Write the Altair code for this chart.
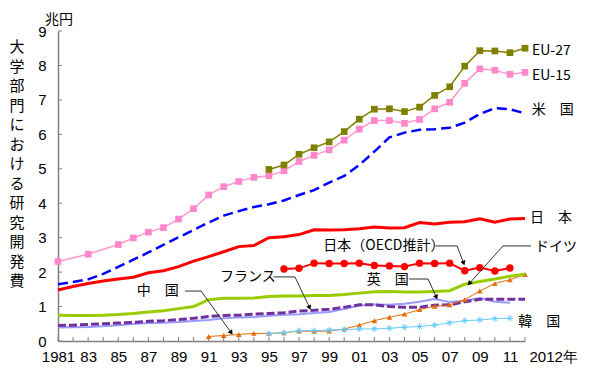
import math
import altair as alt
import pandas as pd

# ---------------- data (兆円) ----------------
years = list(range(1981, 2013))
x_tick_labels = ['1981', '', '83', '', '85', '', '87', '', '89', '', '91', '', '93', '', '95', '',
                 '97', '', '99', '', '01', '', '03', '', '05', '', '07', '', '09', '', '11', '2012年']
y_ticks = [0, 1, 2, 3, 4, 5, 6, 7, 8, 9]

eu15_years = [1981, 1983] + list(range(1985, 2013))
eu15_vals = [2.31, 2.52, 2.80, 2.99, 3.16, 3.29, 3.54, 3.84, 4.24, 4.48, 4.63, 4.75, 4.80, 4.94, 5.21,
             5.39, 5.55, 5.83, 6.15, 6.40, 6.40, 6.32, 6.43, 6.74, 6.93, 7.48, 7.90, 7.86, 7.74, 7.80]
eu27_years = list(range(1995, 2013))
eu27_vals = [4.98, 5.11, 5.42, 5.61, 5.78, 6.08, 6.44, 6.73, 6.74, 6.66, 6.79, 7.13, 7.38, 7.98,
             8.43, 8.42, 8.37, 8.50]
us_vals = [1.65, 1.71, 1.79, 1.95, 2.15, 2.36, 2.57, 2.79, 3.01, 3.22, 3.44, 3.64, 3.77, 3.89, 3.97,
           4.08, 4.24, 4.38, 4.60, 4.79, 5.11, 5.50, 5.91, 6.05, 6.13, 6.15, 6.19, 6.34, 6.59, 6.76,
           6.73, 6.61]
japan_vals = [1.48, 1.58, 1.67, 1.74, 1.80, 1.85, 1.98, 2.04, 2.16, 2.32, 2.45, 2.59, 2.74, 2.77, 3.00,
              3.03, 3.09, 3.23, 3.22, 3.23, 3.26, 3.31, 3.28, 3.29, 3.44, 3.40, 3.45, 3.46, 3.55, 3.45,
              3.54, 3.56]
oecd_years = list(range(1996, 2012))
oecd_vals = [2.09, 2.11, 2.26, 2.25, 2.25, 2.26, 2.19, 2.18, 2.16, 2.26, 2.25, 2.26, 2.04, 2.13, 2.03, 2.12]
germany_vals = [0.75, 0.74, 0.74, 0.75, 0.77, 0.80, 0.84, 0.88, 0.94, 1.00, 1.20, 1.24, 1.24, 1.25, 1.29,
                1.31, 1.31, 1.32, 1.32, 1.35, 1.39, 1.43, 1.44, 1.42, 1.42, 1.44, 1.46, 1.65, 1.73, 1.80,
                1.88, 1.94]
france_vals = [0.45, 0.46, 0.48, 0.50, 0.52, 0.54, 0.57, 0.59, 0.62, 0.66, 0.71, 0.74, 0.75, 0.78, 0.80,
               0.82, 0.87, 0.89, 0.92, 0.98, 1.05, 1.05, 1.00, 0.98, 0.98, 1.04, 1.05, 1.14, 1.21, 1.21,
               1.21, 1.21]
uk_years = list(range(1981, 2012))
uk_vals = [0.39, 0.40, 0.41, 0.43, 0.46, 0.49, 0.52, 0.53, 0.55, 0.58, 0.61, 0.66, 0.68, 0.70, 0.73,
           0.76, 0.78, 0.81, 0.84, 0.93, 1.03, 1.06, 1.05, 1.08, 1.14, 1.22, 1.13, 1.17, 1.25, 1.14, 1.11]
china_years = list(range(1991, 2013))
china_vals = [0.13, 0.16, 0.19, 0.22, 0.22, 0.24, 0.29, 0.28, 0.29, 0.35, 0.46, 0.59, 0.69, 0.78, 0.91,
              1.01, 1.05, 1.20, 1.45, 1.67, 1.78, 1.93]
korea_years = list(range(1995, 2012))
korea_vals = [0.21, 0.24, 0.30, 0.30, 0.32, 0.33, 0.35, 0.35, 0.37, 0.40, 0.42, 0.46, 0.53, 0.59, 0.61,
              0.65, 0.66]

# series labels and their anchor (year, value)
label_texts = ['EU-27', 'EU-15', '米　国', '日　本', 'ドイツ', '韓　国', '日本（OECD推計）', '英　国', 'フランス', '中　国']
label_years = [2012.46, 2012.46, 2012.44, 2012.33, 2012.66, 2011.55, 1998.61, 2001.49, 1991.75, 1986.22]
label_values = [8.42, 7.69, 6.71, 3.58, 2.74, 0.56, 2.76, 1.77, 1.87, 1.46]

# leader lines: start, elbow, arrow tip (year, value)
leaders = {
    '中国': [(1989.43, 1.45), (1990.5, 1.45), (1992.5, 0.24)],
    'フランス': [(1995.3, 1.86), (1996.73, 1.86), (1997.7, 0.97)],
    '英国': [(2004.3, 1.80), (2005.56, 1.80), (2006.12, 1.27)],
    'OECD': [(2006.05, 2.76), (2007.49, 2.76), (2007.93, 2.26)],
    'ドイツ': [(2012.4, 2.76), (2010.54, 2.76), (2008.3, 1.67)],
}

# ---------------- layout ----------------
W, H = 467, 310
X_DOMAIN = [1981, 2012]
Y_DOMAIN = [0, 9]
AXIS_COLOR = '#808080'
JP_FONT = 'Noto Sans CJK JP'
NUM_FONT = 'Liberation Sans'

xs = alt.Scale(domain=X_DOMAIN, nice=False, zero=False)
ys = alt.Scale(domain=Y_DOMAIN, nice=False, zero=True)

label_array = '[' + ','.join("'" + t + "'" for t in x_tick_labels) + ']'
x_axis = alt.Axis(
    values=years, labelExpr=label_array + '[datum.value - 1981]', ticks=False, grid=False, title=None,
    domainColor=AXIS_COLOR, domainWidth=1.5, labelFont=NUM_FONT, labelFontSize=15, labelColor='black',
    labelPadding=8, labelOverlap=False, labelFlush=False,
    labelAlign={"condition": {"test": "datum.value == 2012", "value": "left"}, "value": "center"},
    labelOffset={"condition": {"test": "datum.value == 2012", "value": 4}, "value": 0},
)
y_axis = alt.Axis(
    values=y_ticks, format='d', ticks=False, grid=False, title=None, domainColor=AXIS_COLOR,
    domainWidth=1.5, labelFont=NUM_FONT, labelFontSize=15, labelColor='black', labelPadding=12,
)
X = alt.X('year:Q', scale=xs, axis=x_axis)
Y = alt.Y('value:Q', scale=ys, axis=y_axis)

ASTERISK = 'M-1,0H1M0,-1V1M-0.7,-0.7L0.7,0.7M-0.7,0.7L0.7,-0.7'

series = [
    # name, years, values, line style, point style
    ('英国', uk_years, uk_vals, dict(color='#9999FF', strokeWidth=2), None),
    ('フランス', years, france_vals, dict(color='#7030A0', strokeWidth=3, strokeDash=[8, 3]), None),
    ('中国', china_years, china_vals, dict(color='#E46C0A', strokeWidth=1),
     dict(shape='triangle-up', size=32, filled=True, color='#E46C0A')),
    ('韓国', korea_years, korea_vals, dict(color='#66CCFF', strokeWidth=1),
     dict(shape=ASTERISK, size=40, filled=False, color='#66CCFF', strokeWidth=1)),
    ('ドイツ', years, germany_vals, dict(color='#99CC00', strokeWidth=3), None),
    ('日本OECD', oecd_years, oecd_vals, dict(color='#FF0000', strokeWidth=2),
     dict(shape='circle', size=55, filled=True, color='#FF0000')),
    ('日本', years, japan_vals, dict(color='#FF0000', strokeWidth=3), None),
    ('米国', years, us_vals, dict(color='#0000FF', strokeWidth=2.5, strokeDash=[10, 5]), None),
    ('EU-15', eu15_years, eu15_vals, dict(color='#FF99CC', strokeWidth=1.5),
     dict(shape='square', size=45, filled=True, color='#FF88CC')),
    ('EU-27', eu27_years, eu27_vals, dict(color='#808000', strokeWidth=1.5),
     dict(shape='square', size=45, filled=True, color='#808000')),
]

layers = []

# inward axis ticks
layers.append(
    alt.Chart(pd.DataFrame({'year': years})).mark_rule(color=AXIS_COLOR, strokeWidth=1)
    .encode(x=X, y=alt.value(H), y2=alt.value(H - 4))
)
layers.append(
    alt.Chart(pd.DataFrame({'value': y_ticks})).mark_rule(color=AXIS_COLOR, strokeWidth=1)
    .encode(y=Y, x=alt.value(0), x2=alt.value(4))
)

for name, yrs, vals, lstyle, pstyle in series:
    df = pd.DataFrame({'year': yrs, 'value': vals})
    layers.append(alt.Chart(df).mark_line(**lstyle).encode(x=X, y=Y))
    if pstyle:
        layers.append(alt.Chart(df).mark_point(opacity=1, **pstyle).encode(x=X, y=Y))

# leader lines with arrow heads
px_per_year = W / (X_DOMAIN[1] - X_DOMAIN[0])
px_per_val = H / (Y_DOMAIN[1] - Y_DOMAIN[0])
line_rows, arrow_rows = [], []
for key, pts in leaders.items():
    for i, (yr, v) in enumerate(pts):
        line_rows.append({'id': key, 'o': i, 'year': yr, 'value': v})
    (y1, v1), (y2, v2) = pts[-2], pts[-1]
    dx = (y2 - y1) * px_per_year
    dy = -(v2 - v1) * px_per_val
    ang = math.degrees(math.atan2(dx, -dy)) % 360
    arrow_rows.append({'year': y2, 'value': v2, 'angle': ang})

layers.append(
    alt.Chart(pd.DataFrame(line_rows)).mark_line(color='#333333', strokeWidth=1)
    .encode(x=X, y=Y, detail='id:N', order='o:Q')
)
layers.append(
    alt.Chart(pd.DataFrame(arrow_rows)).mark_point(shape='triangle-up', filled=True, size=28,
                                                   color='#000000', opacity=1)
    .encode(x=X, y=Y, angle=alt.Angle('angle:Q', scale=None))
)

# series labels
layers.append(
    alt.Chart(pd.DataFrame({'year': label_years, 'value': label_values, 'text': label_texts}))
    .mark_text(align='left', baseline='middle', font=JP_FONT, fontSize=14, color='black')
    .encode(x=X, y=Y, text='text:N')
)

# unit and vertical axis title
layers.append(
    alt.Chart(pd.DataFrame({'t': ['兆円']}))
    .mark_text(align='center', baseline='middle', font=JP_FONT, fontSize=14, color='black')
    .encode(x=alt.value(1), y=alt.value(-11), text='t:N')
)
title_chars = list('大学部門における研究開発費')
layers.append(
    alt.Chart(pd.DataFrame({'a': [0]}))
    .mark_text(text=title_chars, align='center', baseline='top', font=JP_FONT, fontSize=15,
               lineHeight=19.5, color='black')
    .encode(x=alt.value(-41), y=alt.value(9))
)

chart = alt.layer(*layers).properties(
    width=W, height=H,
    autosize=alt.AutoSizeParams(type='none'),
    padding={'left': 50, 'top': 23, 'right': 67, 'bottom': 33},
    background='white',
).configure_view(stroke=None)

chart.save('out.html', embed_options={'renderer': 'svg', 'actions': False})
